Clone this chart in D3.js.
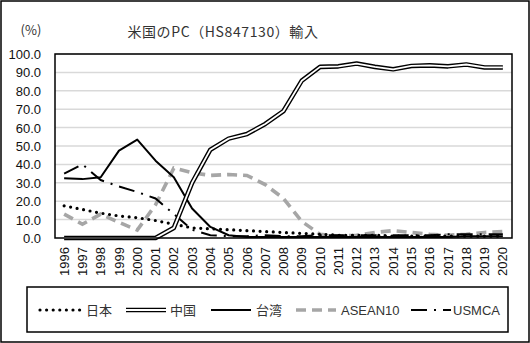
<!DOCTYPE html>
<html><head><meta charset="utf-8">
<script src="https://cdn.jsdelivr.net/npm/d3@7"></script>
<style>body{margin:0;background:#fff}svg{display:block}</style>
</head><body>
<script>
const years = ["1996","1997","1998","1999","2000","2001","2002","2003","2004","2005","2006","2007","2008","2009","2010","2011","2012","2013","2014","2015","2016","2017","2018","2019","2020"];
const japan  = [17.5,15.5,13.5,12,11,9.5,7.5,5.5,5,4.5,4,3.5,3,2.5,2,1.5,1.5,1.5,1,1,1,1,1,1,1];
const china  = [0,0,0,0,0,0,5.5,30,48,54,56.5,62,69,85.5,93,93.3,94.8,93,91.7,93.5,93.8,93.3,94.3,92.7,92.7];
const taiwan = [32.5,32,33,47.5,53.5,42,33,16,6,1.5,0.5,0.5,0.5,0.5,0.5,0.5,0.5,0.5,0.5,0.5,0.5,0.5,1,1,1];
const asean  = [13,7.5,13,8.5,4.3,18,38,35.5,34,34.5,34,29,21.5,9,2,1,1.5,3,4,3,2,1.5,2,3,3.5];
const usmca  = [35,40,31.5,28,25,21.5,13,4.5,1.5,1,1,1.5,1,1,1.5,1.5,1.5,1.5,1.5,1.5,1.5,2,2,2,2];
const yTicks = [0,10,20,30,40,50,60,70,80,90,100];
const names = ["日本","中国","台湾","ASEAN10","USMCA"];

const W=530,H=343;
const svg=d3.select("body").append("svg").attr("width",W).attr("height",H);
const numFont="'Liberation Sans', Arial, sans-serif";
const cjkFont="'Noto Sans CJK JP', sans-serif";

svg.append("rect").attr("x",1).attr("y",1).attr("width",W-2).attr("height",H-2).attr("fill","#fff").attr("stroke","#000").attr("stroke-width",1.5);

const L=55,R=512,T=54,B=238;
const x=d3.scaleBand().domain(years).range([L,R]);
const y=d3.scaleLinear().domain([0,100]).range([B,T]);
const cx=d=>x(d)+x.bandwidth()/2;

// gridlines
svg.append("g").selectAll("line").data(yTicks.filter(d=>d>0)).join("line")
 .attr("x1",L).attr("x2",R).attr("y1",d=>y(d)).attr("y2",d=>y(d))
 .attr("stroke","#d9d9d9").attr("stroke-width",1.5);

// y axis labels
const ya=svg.append("g").attr("transform",`translate(${L-14},0)`)
 .call(d3.axisLeft(y).tickValues(yTicks).tickFormat(d3.format(".1f")).tickSize(0));
ya.select(".domain").remove();
ya.selectAll("text").attr("font-family",numFont).attr("font-size",13).attr("fill","#111").attr("x",0).attr("dy","0.35em");

// x axis labels
const xa=svg.append("g").attr("transform",`translate(0,${B})`)
 .call(d3.axisBottom(x).tickSize(0));
xa.select(".domain").remove();
xa.selectAll("text").attr("font-family",numFont).attr("font-size",13).attr("fill","#111")
 .attr("transform","rotate(-90)").attr("text-anchor","end").attr("x",-9).attr("y",0).attr("dy","0.35em");

const line=d3.line().x((d,i)=>cx(years[i])).y(d=>y(d));
const g=svg.append("g");
function draw(data,attrs){const p=g.append("path").datum(data).attr("d",line).attr("fill","none");for(const k in attrs)p.attr(k,attrs[k]);return p;}

const styles=[
 [{stroke:"#000","stroke-width":3.2,"stroke-dasharray":"0,6.6","stroke-linecap":"round"}],
 [{stroke:"#000","stroke-width":4.6,"stroke-linejoin":"round"},{stroke:"#fff","stroke-width":1.8,"stroke-linejoin":"round"}],
 [{stroke:"#000","stroke-width":2,"stroke-linejoin":"round"}],
 [{stroke:"#a6a6a6","stroke-width":3.6,"stroke-dasharray":"10,6"}],
 [{stroke:"#000","stroke-width":2,"stroke-dasharray":"16,7,2,7"}]
];
const series=[asean,usmca,japan,taiwan,china];
const order=[3,4,0,2,1];
order.forEach((si,k)=>{styles[si].forEach(st=>draw(series[k],st));});

// plot border
svg.append("rect").attr("x",L).attr("y",T).attr("width",R-L).attr("height",B-T).attr("fill","none").attr("stroke","#000").attr("stroke-width",1.5);

// title
svg.append("text").attr("x",223).attr("y",37).attr("text-anchor","middle").attr("font-family",cjkFont).attr("font-size",14).attr("letter-spacing",0.6).attr("fill","#333").text("米国のPC（HS847130）輸入");
svg.append("text").attr("x",31).attr("y",35).attr("text-anchor","middle").attr("font-family",cjkFont).attr("font-size",13).attr("fill","#333").text("(%)");

// legend
svg.append("rect").attr("x",27).attr("y",287).attr("width",481).attr("height",45).attr("fill","#fff").attr("stroke","#000").attr("stroke-width",1.5);
const ly=310;
const lx=[[40,80,86],[126,166,170],[211,251,256],[296,336,341],[411,451,453]];
names.forEach((n,i)=>{
  styles[i].forEach(st=>{const p=svg.append("line").attr("x1",lx[i][0]).attr("x2",lx[i][1]).attr("y1",ly).attr("y2",ly);for(const k in st)p.attr(k,st[k]);});
  svg.append("text").attr("x",lx[i][2]).attr("y",ly).attr("dy","0.35em").attr("font-family",i>=3?numFont:cjkFont).attr("font-size",13).attr("fill","#333").text(n);
});
</script>
</body></html>
